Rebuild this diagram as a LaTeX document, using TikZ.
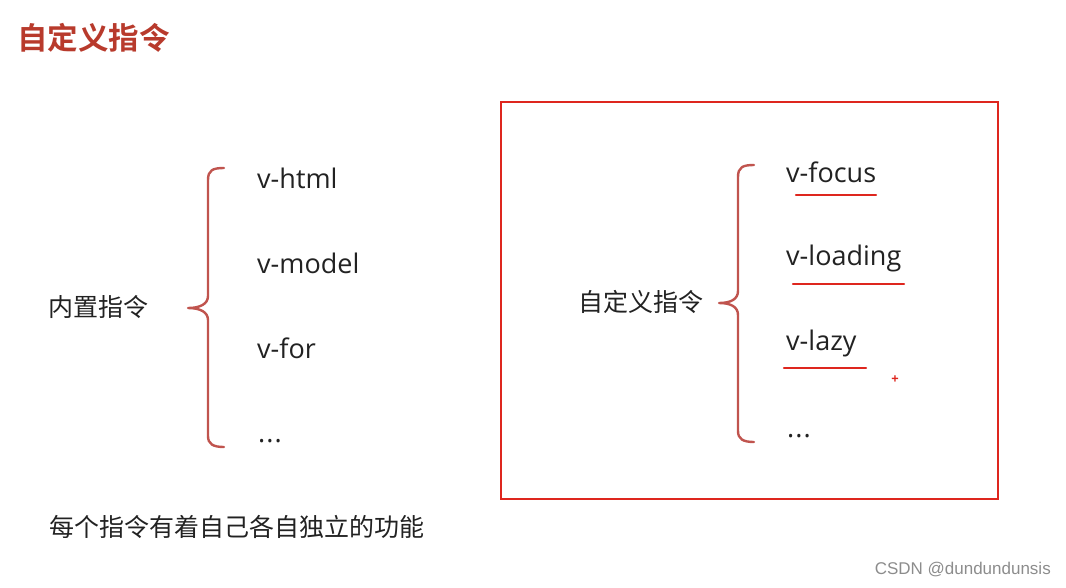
\documentclass[tikz,border=0pt]{standalone}
\usepackage{fontspec}
\setmainfont{Open Sans}
\newfontfamily\cjk{Noto Sans CJK SC}[BoldFont={Noto Sans CJK SC Bold}]
\newfontfamily\wmfont{Liberation Sans}
\usepackage{xcolor}
\usepackage{tikz}
\usetikzlibrary{positioning}

\definecolor{titlered}{RGB}{184,58,44}
\definecolor{bracered}{RGB}{192,84,78}
\definecolor{boxred}{RGB}{222,38,30}
\definecolor{marktext}{RGB}{34,34,34}

\begin{document}
\begin{tikzpicture}[x=1pt,y=-1pt, every node/.style={inner sep=0pt, text=marktext}]
\tikzstyle{item}=[anchor=west, font=\fontsize{27}{30}\selectfont]
\tikzstyle{label}=[font=\cjk\fontsize{25}{30}\selectfont]
\tikzstyle{brace}=[draw=bracered, line width=2.4pt, line cap=round, line join=round]
\tikzstyle{underline}=[draw=boxred, line width=2.2pt, line cap=round]
\path[use as bounding box] (0,0) rectangle (1066,587);

% title
\node[anchor=west, font=\cjk\bfseries\fontsize{30.5}{34}\selectfont, text=titlered] (title) at (17,38) {自定义指令};

% built-in directives
\node[label, anchor=east] (builtin) at (149,307) {内置指令};
\coordinate (lt) at (188,308);
\draw[brace] (224,168) .. controls (213,168) and (208,170) .. (208,180) -- (208,296)
  .. controls (208,304) and (200,308) .. (lt)
  .. controls (200,308) and (208,312) .. (208,320) -- (208,436)
  .. controls (208,444) and (213,447) .. (224,447);
\node[item] (h1) at (257,178) {v-html};
\node[item] (h2) at (257,263) {v-model};
\node[item] (h3) at (257,348) {v-for};
\node[item] (h4) at (258,441) {.\kern1pt.\kern1pt.};

% custom directives
\draw[draw=boxred, line width=2.8pt] (501,102) rectangle (998,499);
\node[label, anchor=east] (custom) at (704,302) {自定义指令};
\coordinate (rt) at (719,303);
\draw[brace] (754,165) .. controls (743,165) and (738,167) .. (738,177) -- (738,291)
  .. controls (738,299) and (731,303) .. (rt)
  .. controls (731,303) and (738,307) .. (738,315) -- (738,431)
  .. controls (738,439) and (743,442) .. (754,442);
\node[item] (c1) at (786,172) {v-focus};
\node[item] (c2) at (786,258) {v-loading};
\node[item] (c3) at (786,343) {v-lazy};
\node[item] (c4) at (787,436) {.\kern1pt.\kern1pt.};
\draw[underline] (796,195) -- (876,195);
\draw[underline] (793,284) -- (904,284);
\draw[underline] (784,368) -- (866,368);
\node[text=boxred, font=\bfseries\fontsize{13}{14}\selectfont] (plus) at (895,380) {+};

% footer
\node[label, anchor=west] (note) at (49,527) {每个指令有着自己各自独立的功能};
\node[anchor=east, text=black!45, font=\wmfont\fontsize{17}{20}\selectfont] (wm) at (1051,570) {CSDN @dundundunsis};
\end{tikzpicture}
\end{document}
